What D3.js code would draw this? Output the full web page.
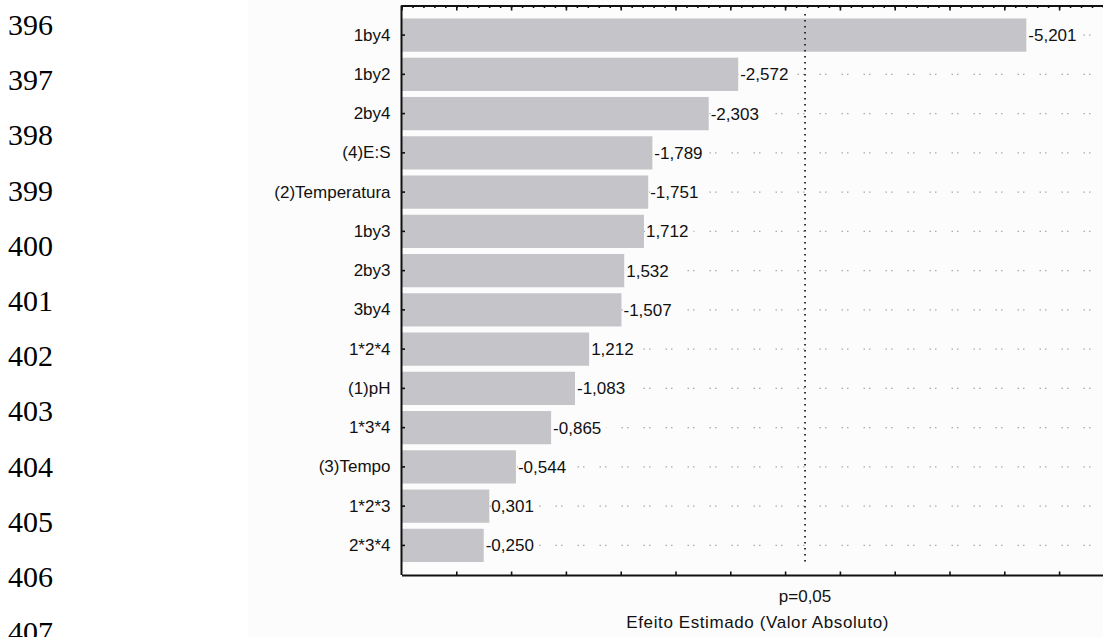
<!DOCTYPE html>
<html>
<head>
<meta charset="utf-8">
<script src="https://cdn.jsdelivr.net/npm/d3@7"></script>
<style>
  body { margin: 0; background: #fff; }
  svg { display: block; }
</style>
</head>
<body>
<svg id="chart" width="1103" height="637"></svg>
<script>
// Manuscript line numbers in the page margin
const lineNumbers = [396, 397, 398, 399, 400, 401, 402, 403, 404, 405, 406, 407];

// Pareto chart of standardized effects, sorted by absolute size
const categories = ["1by4", "1by2", "2by4", "(4)E:S", "(2)Temperatura", "1by3", "2by3",
                    "3by4", "1*2*4", "(1)pH", "1*3*4", "(3)Tempo", "1*2*3", "2*3*4"];
const effects = [-5.201, -2.572, -2.303, -1.789, -1.751, 1.712, 1.532,
                 -1.507, 1.212, -1.083, -0.865, -0.544, 0.301, -0.250];

// Significance threshold (p = 0.05)
const pCritical = 3.182;
const pLabel = "p=0,05";
const xTitle = "Efeito Estimado (Valor Absoluto)";

const W = 1103, H = 637;
const svg = d3.select("#chart");
const sans = "'Liberation Sans', Arial, sans-serif";

// line numbers
svg.append("g").selectAll("text").data(lineNumbers).join("text")
  .attr("x", 8)
  .attr("y", (d, i) => 35 + i * 55.2)
  .style("font-family", "'Liberation Serif', 'Times New Roman', serif")
  .style("font-size", "30px")
  .attr("fill", "#000")
  .text(d => d);

// chart panel background
svg.append("rect")
  .attr("x", 248).attr("y", 0).attr("width", W - 248).attr("height", H)
  .attr("fill", "#fcfcfc");

const plot = { left: 401.5, top: 5.5, bottom: 575 };
const pxPerUnit = 109.6;

const x = d3.scaleLinear()
  .domain([-0.5, 6])
  .range([plot.left, plot.left + 6.5 * pxPerUnit]);

const y = d3.scaleBand()
  .domain(categories)
  .range([plot.top, plot.bottom])
  .paddingInner(0.153)
  .paddingOuter(0.33);

const rows = categories.map((c, i) => ({ name: c, value: effects[i] }));
const fmt = v => d3.format(".3f")(v).replace(".", ",").replace("−", "-");

// dotted row guides
svg.append("g").selectAll("line").data(rows).join("line")
  .attr("x1", plot.left).attr("x2", W)
  .attr("y1", d => y(d.name) + y.bandwidth() / 2)
  .attr("y2", d => y(d.name) + y.bandwidth() / 2)
  .attr("stroke", "#a9a9a9")
  .attr("stroke-width", 1.3)
  .attr("stroke-dasharray", "1.5 4 1.5 15");

// bars (absolute effect)
svg.append("g").selectAll("rect").data(rows).join("rect")
  .attr("x", plot.left)
  .attr("y", d => y(d.name))
  .attr("width", d => x(Math.abs(d.value)) - plot.left)
  .attr("height", y.bandwidth())
  .attr("fill", "#c5c4c8");

// value labels on white backing
const labels = svg.append("g").selectAll("g").data(rows).join("g")
  .attr("transform", d => `translate(${x(Math.abs(d.value)) + 2},${y(d.name) + y.bandwidth() / 2})`);
labels.append("rect").attr("fill", "#fcfcfc");
labels.append("text")
  .attr("y", 6)
  .style("font-family", sans)
  .style("font-size", "17px")
  .attr("fill", "#111")
  .text(d => fmt(d.value));
labels.each(function () {
  const g = d3.select(this);
  const b = g.select("text").node().getBBox();
  g.select("rect")
    .attr("x", b.x).attr("y", b.y)
    .attr("width", b.width + 5).attr("height", b.height);
});

// axes
const axisColor = "#111";
const minorTicks = d3.range(-5, 61).map(i => i / 10);
const majorTicks = d3.range(-1, 12).map(i => i / 2);

const topMinor = svg.append("g").attr("transform", `translate(0,${plot.top})`)
  .call(d3.axisTop(x).tickValues(minorTicks).tickSize(-2.5).tickSizeOuter(0).tickFormat(""));
const topMajor = svg.append("g").attr("transform", `translate(0,${plot.top})`)
  .call(d3.axisTop(x).tickValues(majorTicks).tickSize(-5).tickSizeOuter(0).tickFormat(""));
topMajor.select(".domain").remove();

const bottom = svg.append("g").attr("transform", `translate(0,${plot.bottom})`)
  .call(d3.axisBottom(x).tickValues(majorTicks.filter(v => v >= 0)).tickSize(-3.5).tickSizeOuter(0).tickFormat(""));

const left = svg.append("g").attr("transform", `translate(${plot.left},0)`)
  .call(d3.axisLeft(y).tickSize(-3.5).tickSizeOuter(0).tickPadding(11));
left.select(".domain").attr("d", `M0,${plot.top}V${plot.bottom}`);
left.selectAll("text")
  .style("font-family", sans)
  .style("font-size", "17px")
  .attr("fill", "#111");

[topMinor, topMajor, bottom, left].forEach(g => {
  g.attr("color", axisColor);
  g.selectAll(".domain").attr("stroke-width", 2);
  g.selectAll(".tick line").attr("stroke-width", 1.6);
});

// p = 0.05 reference line
svg.append("line")
  .attr("x1", x(pCritical)).attr("x2", x(pCritical))
  .attr("y1", 14).attr("y2", 566)
  .attr("stroke", "#222")
  .attr("stroke-width", 1.8)
  .attr("stroke-dasharray", "1.6 4.4");

svg.append("text")
  .attr("x", x(pCritical)).attr("y", 602)
  .attr("text-anchor", "middle")
  .style("font-family", sans)
  .style("font-size", "17px")
  .attr("fill", "#111")
  .text(pLabel);

svg.append("text")
  .attr("x", (x.range()[0] + x.range()[1]) / 2).attr("y", 628)
  .attr("text-anchor", "middle")
  .style("font-family", sans)
  .style("font-size", "17px")
  .style("letter-spacing", "0.6px")
  .attr("fill", "#111")
  .text(xTitle);
</script>
</body>
</html>
